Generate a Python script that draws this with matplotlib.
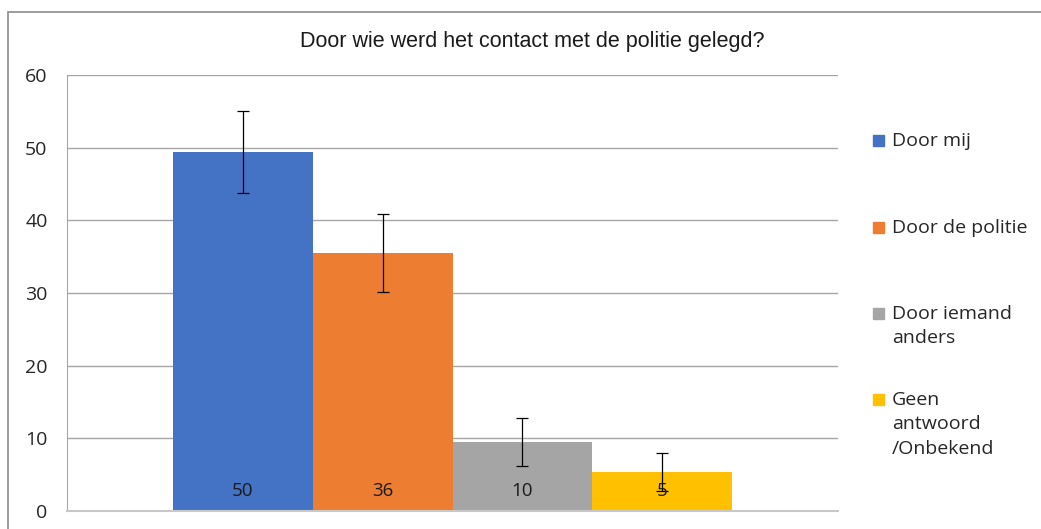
import matplotlib.pyplot as plt
from matplotlib.patches import Rectangle

categories = ["Door mij", "Door de politie", "Door iemand\nanders", "Geen\nantwoord\n/Onbekend"]
values = [49.4, 35.5, 9.5, 5.4]
errors = [5.6, 5.4, 3.3, 2.6]
labels = ["50", "36", "10", "5"]
colors = ["#4472C4", "#ED7D31", "#A5A5A5", "#FFC000"]

fig = plt.figure(figsize=(10.41, 5.29), dpi=100)
ax = fig.add_axes([67/1041, 1-511/529, (838-67)/1041, (511-75)/529])

# outer chart border
fig.patches.append(Rectangle((8/1041, -0.1), 1.2, 1-12/529+0.1, transform=fig.transFigure,
                             fill=False, edgecolor="#8c8c8c", linewidth=1.2))

x = list(range(len(values)))
ax.bar(x, values, width=1.0, color=colors, zorder=2)
ax.errorbar(x, values, yerr=errors, fmt="none", ecolor="black", elinewidth=0.9,
            capsize=4.5, capthick=0.9, zorder=3)
for xi, lab in zip(x, labels):
    ax.text(xi, 2.7, lab, ha="center", va="center", fontsize=13.5,
            family="Open Sans", color="#1a1a1a", zorder=4)

ax.set_xlim(-1.26, 4.26)
ax.set_ylim(0, 60)
ax.set_yticks(range(0, 61, 10))
ax.set_xticks([])
ax.yaxis.grid(True, color="#a6a6a6", linewidth=1)
ax.set_axisbelow(True)
for s in ["top", "right"]:
    ax.spines[s].set_visible(False)
ax.spines["left"].set_color("#a6a6a6")
ax.spines["bottom"].set_color("#c8c8c8")
ax.spines["bottom"].set_linewidth(1.5)
ax.tick_params(axis="y", length=0, pad=14, labelsize=14, labelcolor="#262626")
for t in ax.get_yticklabels():
    t.set_family("Open Sans")

fig.text(532/1041, 1-42/529, "Door wie werd het contact met de politie gelegd?",
         ha="center", va="center", fontsize=15.5, family="Liberation Sans",
         color="#1a1a1a")

# legend
leg_y = [140, 227, 313, 399]
for c, lab, y in zip(colors, categories, leg_y):
    fig.patches.append(Rectangle((873/1041, 1-(y+6)/529), 11/1041, 11/529,
                                 transform=fig.transFigure, color=c))
    fig.text(892/1041, 1-(y-8)/529, lab, ha="left", va="top", fontsize=14,
             family="Open Sans", color="#262626", linespacing=1.45)

fig.savefig("out.png", dpi=100)
